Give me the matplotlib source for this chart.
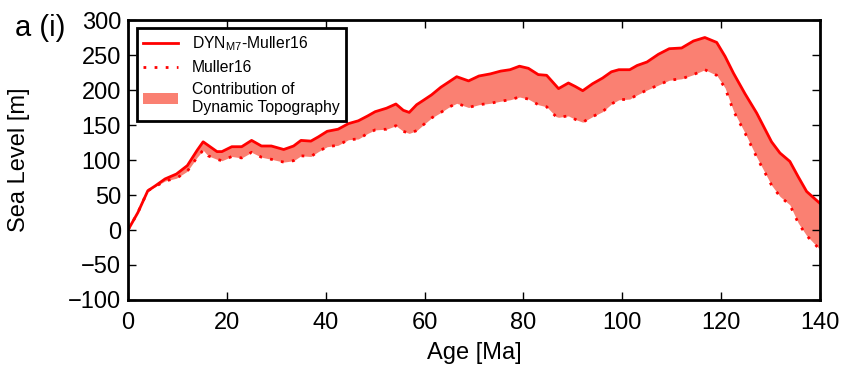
import numpy as np
import matplotlib
matplotlib.use("Agg")
import matplotlib.pyplot as plt

plt.rcParams['font.family'] = ['Liberation Sans', 'DejaVu Sans']
plt.rcParams['mathtext.fontset'] = 'custom'
plt.rcParams['mathtext.rm'] = 'Liberation Sans'
plt.rcParams['mathtext.it'] = 'Liberation Sans'

# age [Ma] and sea level [m]
age = [0, 2, 4, 5.5, 7.5, 9.8, 12, 14, 15.2, 16.2, 18, 19, 21, 23, 25, 27, 29,
       31.5, 33.5, 35, 37, 38.5, 40.3, 42.5, 44.6, 46.6, 48.5, 50, 52.3, 54.2,
       55.7, 56.9, 58.4, 59.7, 61.4, 63.3, 64.8, 66.5, 68.9, 71, 73.3, 75.4,
       77.3, 79.2, 81, 83, 84.7, 86.6, 87.1, 89.1, 90.5, 92, 94, 96, 97.8,
       99.3, 101.5, 103, 105, 107.3, 109.5, 112, 114.4, 116.7, 119.1, 120.8,
       122.5, 124.8, 127.2, 130.2, 131.9, 133.9, 135.6, 137.3, 140]
dyn_m7 = [0, 25, 56, 63, 73, 80, 92, 114, 126, 121, 112, 112, 119, 119, 128, 120,
          120, 115, 120, 128, 127, 133, 141, 144, 152, 156, 163, 169, 174, 180,
          171, 168, 179, 185, 193, 204, 211, 219, 213, 220, 223, 227, 229, 234,
          231, 222, 221, 206, 202, 210, 205, 199, 209, 217, 226, 229, 229, 235,
          240, 251, 259, 260, 270, 275, 268, 248, 224, 195, 167, 126, 110, 98,
          76, 55, 38]
muller16 = [0, 25, 56, 62, 70, 74, 84, 104, 114, 106, 101, 99, 105, 103, 111, 104,
            101, 97, 99, 106, 105, 112, 119, 121, 129, 130, 138, 143, 144, 149,
            141, 138, 142, 150, 160, 168, 175, 181, 175, 179, 181, 184, 186, 190,
            187, 179, 176, 162, 161, 163, 158, 154, 162, 169, 180, 186, 187, 193,
            200, 207, 214, 216, 222, 229, 221, 203, 170, 139, 104, 64, 48, 36,
            10, -8, -28]

fig = plt.figure(figsize=(8.45, 3.81), dpi=100)
ax = fig.add_axes([0.1515, 0.2126, 0.8189, 0.7349])

ax.fill_between(age, muller16, dyn_m7, color='salmon', lw=0,
                label='Contribution of\nDynamic Topography')
ax.plot(age, dyn_m7, color='red', lw=2, label='DYN$_{M7}$-Muller16')
ax.plot(age, muller16, color='red', lw=2, ls=(0, (1, 3)), label='Muller16')

ax.set_xlim(0, 140)
ax.set_ylim(-100, 300)
ax.set_xticks(np.arange(0, 141, 20))
ax.set_yticks(np.arange(-100, 301, 50))
ax.tick_params(direction='in', top=True, right=True, length=6, width=1,
               labelsize=17)
ax.tick_params(axis='x', pad=9)
ax.tick_params(axis='y', pad=5)
for s in ax.spines.values():
    s.set_linewidth(2)

ax.set_xlabel('Age [Ma]', fontsize=17)
ax.set_ylabel('Sea Level [m]', fontsize=17)
ax.xaxis.set_label_coords(0.5, -0.15)
ax.yaxis.set_label_coords(-0.142, 0.5)
fig.text(15 / 845, 1 - 36 / 381, 'a (i)', fontsize=21)

h, l = ax.get_legend_handles_labels()
leg = ax.legend([h[1], h[2], h[0]], [l[1], l[2], l[0]], loc='upper left',
                bbox_to_anchor=(0.013, 0.971), borderaxespad=0, fontsize=11.3,
                fancybox=False, framealpha=1, edgecolor='black', borderpad=0.4,
                handlelength=2.2, labelspacing=0.45, handletextpad=0.9)
leg.get_frame().set_linewidth(2)

fig.savefig('out.png', dpi=100, facecolor='white')
